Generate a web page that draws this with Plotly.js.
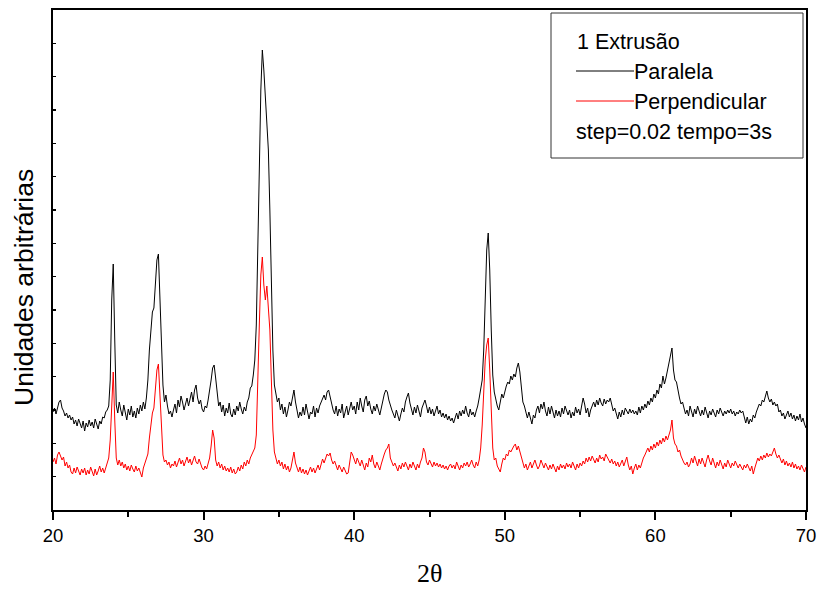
<!DOCTYPE html>
<html>
<head>
<meta charset="utf-8">
<script src="https://cdn.plot.ly/plotly-3.0.1.min.js"></script>
<style>html,body{margin:0;padding:0;background:#fff;}#chart{width:819px;height:590px;}</style>
</head>
<body>
<div id="chart"></div>
<script>
// 2-theta sampling (degrees): first angle and step between readings
const startAngle = 20;
const stepAngle = 0.1;

// Intensities, arbitrary units, one row per degree (x.0 ... x.9)
const paralela = [
  98,102,96,104,108,110,102,99,94,97,      // 20
  92,95,90,93,86,90,84,91,85,82,           // 21
  89,79,87,83,90,84,88,82,91,85,           // 22
  81,89,86,93,92,98,100,104,130,210,       // 23
  246,170,105,97,108,100,94,105,98,90,     // 24
  101,95,104,93,99,92,102,96,105,99,       // 25
  108,101,112,130,160,185,198,202,225,250, // 26
  256,215,160,125,108,115,104,96,99,93,    // 27
  100,106,97,110,103,114,108,100,106,112,  // 28
  104,110,118,108,120,125,112,106,110,101, // 29
  98,104,102,110,118,130,142,145,132,118,  // 30
  104,108,98,105,94,102,97,107,96,93,      // 31
  101,95,104,99,108,101,96,103,99,108,     // 32
  112,122,124,135,150,185,250,340,420,460, // 33
  440,410,387,360,300,220,160,125,118,108, // 34
  112,100,106,96,103,93,100,108,104,114,   // 35
  120,108,100,92,98,94,103,95,106,99,      // 36
  91,98,96,104,93,102,97,104,108,112,      // 37
  115,110,118,120,113,106,100,96,104,94,   // 38
  101,97,106,92,99,104,95,102,108,100,     // 39
  104,96,108,100,112,104,98,110,114,104,   // 40
  109,101,96,104,99,106,100,95,102,110,    // 41
  116,120,118,110,104,100,96,92,100,94,    // 42
  89,96,102,98,108,113,117,107,100,95,     // 43
  103,97,105,99,93,102,106,110,104,97,     // 44
  103,96,101,94,99,104,96,100,93,97,       // 45
  92,96,90,94,89,92,87,93,97,91,           // 46
  99,94,100,96,104,97,93,101,95,98,        // 47
  93,99,104,112,122,130,160,215,260,277,   // 48
  240,180,135,118,110,104,100,110,116,112, // 49
  120,124,128,126,134,130,136,133,142,147, // 50
  138,120,108,104,96,92,98,90,86,95,       // 51
  92,100,104,97,106,101,108,99,94,103,     // 52
  96,104,98,92,100,94,99,93,102,96,        // 53
  104,98,95,100,92,98,94,103,97,101,       // 54
  95,104,112,106,97,102,93,100,104,108,    // 55
  103,110,105,112,107,104,111,106,110,108, // 56
  112,104,99,102,95,91,98,93,100,95,       // 57
  102,98,96,101,97,100,96,99,95,103,       // 58
  97,104,100,106,102,109,105,112,108,116,  // 59
  112,120,116,126,122,134,126,132,140,146, // 60
  156,162,140,130,128,118,112,106,108,102, // 61
  96,100,94,104,98,93,101,96,104,98,       // 62
  94,100,95,103,97,92,99,95,101,97,        // 63
  93,100,96,102,98,94,99,96,100,97,        // 64
  101,96,99,94,98,96,100,97,99,92,         // 65
  87,93,86,91,88,95,92,98,102,106,         // 66
  104,110,108,113,119,112,108,111,105,108, // 67
  104,106,98,100,94,97,91,95,99,93,        // 68
  97,91,95,89,94,90,96,88,92,86,           // 69
  82                                       // 70
];

const perpendicular = [
  48,52,46,55,58,54,50,53,44,48,           // 20
  42,45,38,36,42,37,43,39,35,41,           // 21
  37,42,35,40,36,43,38,34,41,35,           // 22
  39,44,38,42,37,43,46,52,70,115,          // 23
  138,90,52,45,50,44,48,42,46,40,          // 24
  44,39,45,41,38,44,39,42,36,33,           // 25
  42,47,50,56,72,88,97,102,118,140,        // 26
  146,118,80,55,48,50,45,48,42,46,         // 27
  44,49,43,47,52,46,50,44,48,53,           // 28
  47,51,45,49,54,48,46,51,45,42,           // 29
  40,44,41,46,52,64,80,72,50,44,           // 30
  48,42,46,40,44,39,42,38,43,37,           // 31
  41,36,38,43,39,45,41,48,44,50,           // 32
  46,52,55,58,62,75,120,185,235,253,       // 33
  225,210,224,205,180,130,80,58,52,46,     // 34
  50,44,48,41,46,40,44,38,42,52,           // 35
  58,47,42,38,43,37,41,36,40,35,           // 36
  39,43,38,42,37,41,45,40,46,51,           // 37
  47,52,56,54,57,50,46,49,44,40,           // 38
  45,41,38,43,40,36,37,48,58,55,           // 39
  50,46,52,48,44,50,45,40,47,43,           // 40
  52,48,55,46,42,48,44,40,46,52,           // 41
  56,60,62,66,52,48,44,47,43,39,           // 42
  45,41,47,43,48,44,40,46,42,48,           // 43
  44,40,46,42,48,52,62,58,48,45,           // 44
  50,46,43,48,44,47,43,46,42,45,           // 45
  41,44,40,44,46,42,45,41,48,44,           // 46
  40,45,42,47,44,48,43,46,50,45,           // 47
  42,48,44,50,62,85,115,150,165,172,       // 48
  140,95,62,50,52,44,40,38,46,52,          // 49
  50,56,54,60,58,62,64,66,60,64,           // 50
  58,52,48,42,46,40,44,48,42,46,           // 51
  50,45,41,44,50,46,42,47,43,40,           // 52
  45,41,46,42,38,44,40,46,42,45,           // 53
  41,47,43,46,42,48,44,40,46,42,           // 54
  47,44,49,46,52,48,53,49,54,50,           // 55
  47,52,48,55,51,53,49,56,52,50,           // 56
  47,51,46,49,44,48,43,46,50,44,           // 57
  48,53,45,40,44,36,42,46,40,45,           // 58
  42,48,52,55,58,62,58,64,60,66,           // 59
  62,68,64,70,66,72,68,74,70,76,           // 60
  80,90,72,66,64,58,60,54,50,47,           // 61
  45,48,43,46,52,47,54,49,44,51,           // 62
  46,52,47,43,50,55,49,45,52,47,           // 63
  42,48,44,50,45,41,47,43,50,45,           // 64
  42,47,44,49,45,42,46,43,40,45,           // 65
  42,46,43,39,44,36,42,48,52,49,           // 66
  54,50,55,52,57,53,56,54,58,62,           // 67
  56,52,55,50,47,51,45,49,44,47,           // 68
  43,48,42,46,41,44,40,45,42,38,           // 69
  43                                       // 70
];

const seriesNames = ['Paralela', 'Perpendicular'];
const seriesColors = ['#000000', '#ff0000'];
const xTickVals = [20, 30, 40, 50, 60, 70];
const legendHeader = '1 Extrusão';
const legendFooter = 'step=0.02 tempo=3s';

const traces = [paralela, perpendicular].map((vals, k) => ({
  type: 'scatter', mode: 'lines',
  name: seriesNames[k],
  x0: startAngle, dx: stepAngle,
  y: vals,
  line: {color: seriesColors[k], width: 1},
  showlegend: false,
  hoverinfo: 'skip'
}));

// pixel helpers for the decorative legend box (plot area: 53..806 x 10..510)
const L = 53, R = 806, T = 10, B = 510;
const px = v => (v - L) / (R - L);
const py = v => (B - v) / (B - T);
const legendFont = {size: 21.5};

const layout = {
  width: 819, height: 590,
  margin: {l: L, r: 819 - R, t: T, b: 590 - B, pad: 0},
  paper_bgcolor: '#fff', plot_bgcolor: '#fff',
  font: {family: 'Liberation Sans, Arial, sans-serif', color: '#000'},
  xaxis: {
    range: [20, 70], tickvals: xTickVals, ticktext: xTickVals.map(String),
    ticks: 'outside', ticklen: 8, tickwidth: 2, tickcolor: '#000',
    minor: {ticks: 'outside', dtick: 5, tick0: 20, ticklen: 5, tickwidth: 2, tickcolor: '#000', showgrid: false},
    showline: true, linewidth: 2, linecolor: '#000', mirror: true,
    showgrid: false, zeroline: false,
    tickfont: {size: 18.5, family: 'Liberation Sans, Arial, sans-serif'}
  },
  yaxis: {
    range: [0, 500], tick0: 0, dtick: 500 / 15,
    ticks: 'inside', ticklen: 3, tickwidth: 1.5, tickcolor: '#000',
    showticklabels: false,
    showline: true, linewidth: 2, linecolor: '#000', mirror: true,
    showgrid: false, zeroline: false
  },
  shapes: [
    {type: 'rect', xref: 'paper', yref: 'paper', x0: px(551), x1: px(803), y0: py(158), y1: py(13),
     line: {color: '#333', width: 1}, fillcolor: 'rgba(255,255,255,0)'},
    {type: 'line', xref: 'paper', yref: 'paper', x0: px(576), x1: px(634), y0: py(71), y1: py(71),
     line: {color: seriesColors[0], width: 1}},
    {type: 'line', xref: 'paper', yref: 'paper', x0: px(576), x1: px(634), y0: py(101), y1: py(101),
     line: {color: seriesColors[1], width: 1}}
  ],
  annotations: [
    {text: legendHeader, xref: 'paper', yref: 'paper', x: px(575), y: py(42), xanchor: 'left', yanchor: 'middle',
     showarrow: false, font: legendFont},
    {text: seriesNames[0], xref: 'paper', yref: 'paper', x: px(632), y: py(72), xanchor: 'left', yanchor: 'middle',
     showarrow: false, font: legendFont},
    {text: seriesNames[1], xref: 'paper', yref: 'paper', x: px(632), y: py(102), xanchor: 'left', yanchor: 'middle',
     showarrow: false, font: legendFont},
    {text: legendFooter, xref: 'paper', yref: 'paper', x: px(574), y: py(132), xanchor: 'left', yanchor: 'middle',
     showarrow: false, font: legendFont},
    {text: 'Unidades arbitrárias', xref: 'paper', yref: 'paper', x: 0, y: py(288), xshift: 24 - L,
     xanchor: 'center', yanchor: 'middle', textangle: -90, showarrow: false, font: {size: 26.5}},
    {text: '2θ', xref: 'paper', yref: 'paper', x: 0.5, y: 0, yshift: -(573 - B),
     xanchor: 'center', yanchor: 'middle', showarrow: false,
     font: {size: 26, family: 'Liberation Serif, Times New Roman, serif'}}
  ]
};

Plotly.newPlot('chart', traces, layout, {staticPlot: true, displayModeBar: false});
</script>
</body>
</html>
